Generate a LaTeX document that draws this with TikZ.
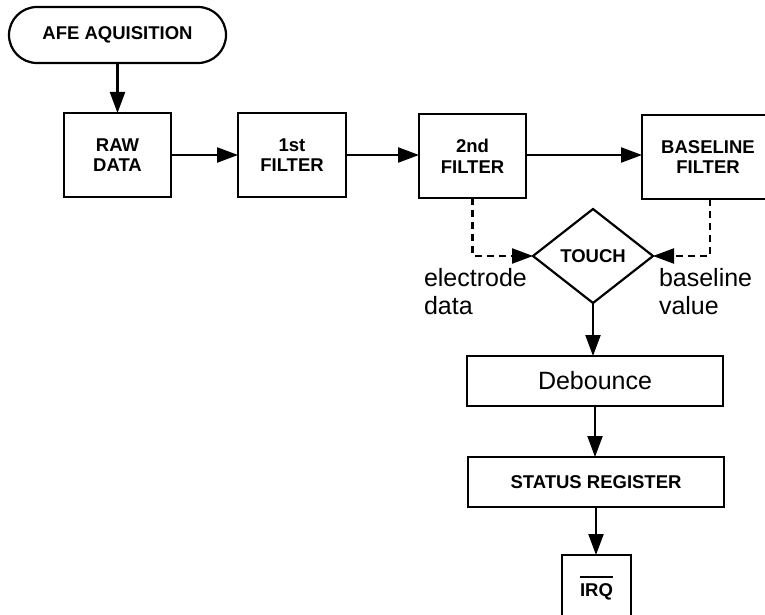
\documentclass[tikz,border=0pt]{standalone}
\usepackage{fontspec}
\setmainfont{Liberation Sans}
\usetikzlibrary{shapes.geometric,arrows.meta}
\begin{document}
\begin{tikzpicture}[x=1pt,y=-1pt,
  every node/.style={inner sep=0pt,outer sep=0pt},
  bfont/.style={font=\bfseries\fontsize{18.5}{20.7}\selectfont},
  rfont/.style={font=\fontsize{25}{28.5}\selectfont},
  box/.style={draw,line width=2.2pt,rectangle,align=center,bfont},
  arr/.style={line width=2.2pt,-{Triangle[length=21pt,width=15pt]}},
  dasharr/.style={line width=2.2pt,dash pattern=on 7pt off 5pt,-{Triangle[length=21pt,width=15pt]}}]
\useasboundingbox (0,0) rectangle (765,615);
\clip (0,0) rectangle (765,615);
\node[box,rounded corners=28pt,minimum width=217pt,minimum height=56pt] (afe) at (117.5,35) {AFE AQUISITION};
\node[box,minimum width=107pt,minimum height=84pt] (raw) at (117.5,155) {RAW\\DATA};
\node[box,minimum width=108pt,minimum height=84pt] (f1) at (292,155) {1st\\FILTER};
\node[box,minimum width=107pt,minimum height=84pt] (f2) at (472.5,156) {2nd\\FILTER};
\node[box,minimum width=132pt,minimum height=84pt] (bl) at (708,157) {BASELINE\\FILTER};
\node[draw,line width=2.2pt,diamond,bfont,minimum width=120pt,minimum height=94pt] (touch) at (593,256) {TOUCH};
\node[rfont,align=left,anchor=north west] (el) at (424,268) {electrode\\data};
\node[rfont,align=left,anchor=north west] (bv) at (659,268) {baseline\\value};
\node[draw,line width=2.2pt,rfont,minimum width=256pt,minimum height=50pt] (deb) at (595,381) {Debounce};
\node[box,minimum width=256pt,minimum height=50pt] (st) at (596,482) {STATUS REGISTER};
\node[box,minimum width=69pt,minimum height=66pt] (irq) at (596.5,588) {\vbox{\hrule height 1.8pt\kern 5pt\hbox{IRQ}}};
\draw[arr] (afe.south) -- (afe.south |- raw.north);
\draw[arr] (raw.east |- 0,155) -- (f1.west |- 0,155);
\draw[arr] (f1.east |- 0,155) -- (f2.west |- 0,155);
\draw[arr] (f2.east |- 0,155) -- (bl.west |- 0,155);
\draw[dasharr] (f2.south) |- (touch.west);
\draw[dasharr] ([xshift=2pt]bl.south) |- (touch.east);
\draw[arr] (touch.south) -- (touch.south |- deb.north);
\draw[arr] (deb.south) -- (deb.south |- st.north);
\draw[arr] (st.south) -- (st.south |- irq.north);
\end{tikzpicture}
\end{document}
